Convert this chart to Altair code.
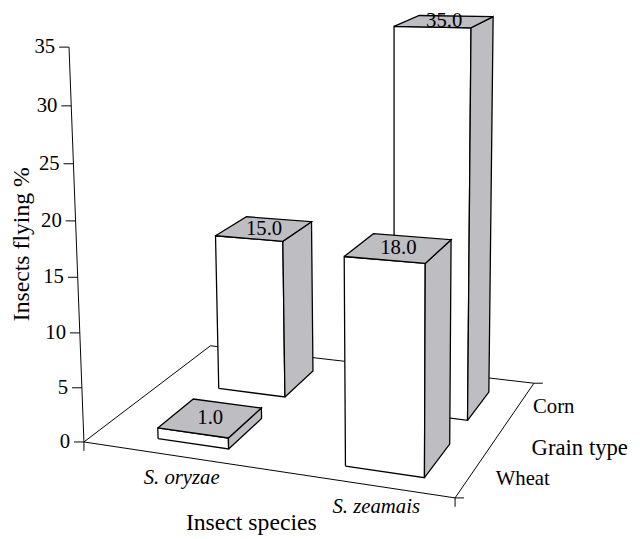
import math
import altair as alt
import pandas as pd

# ---------------- data ----------------
species = ["S. oryzae", "S. zeamais"]
grains = ["Wheat", "Corn"]
wheat_pct = [1.0, 18.0]
corn_pct = [15.0, 35.0]
y_ticks = [0, 5, 10, 15, 20, 25, 30, 35]
y_title = "Insects flying %"
x_title = "Insect species"
z_title = "Grain type"

# ---------------- style / 3-D layout ----------------
Y_MAX = 35.0
FLOOR_W, FLOOR_D, WALL_H = 222.0, 201.0, 238.3      # world size of the box
SPECIES_FRAC = [0.277, 0.798]                        # band centres along the species axis
GRAIN_FRAC = [0.244, 0.729]                          # band centres along the grain axis
BAR_W, BAR_D = 0.203, 0.274                          # bar footprint as fraction of the floor
CAM_POS = (431.3, 361.5, -845.0)
YAW, PITCH, ROLL = -28.8, 11.08, 2.5
FOCAL = 1690.0
PP = (23.0, 155.0)
GRAY = "#bdbdc2"
FONT = "Liberation Serif"
CW, CH = 632, 531


def _cross(a, b):
    return (a[1] * b[2] - a[2] * b[1], a[2] * b[0] - a[0] * b[2], a[0] * b[1] - a[1] * b[0])


_a, _p, _r = map(math.radians, (YAW, PITCH, ROLL))
FWD = (math.cos(_p) * math.sin(_a), -math.sin(_p), math.cos(_p) * math.cos(_a))
_R0 = (math.cos(_a), 0.0, -math.sin(_a))
_D0 = _cross(_R0, FWD)
RIGHT = tuple(math.cos(_r) * u + math.sin(_r) * v for u, v in zip(_R0, _D0))
DOWN = tuple(-math.sin(_r) * u + math.cos(_r) * v for u, v in zip(_R0, _D0))


def proj(X, Y, Z):
    d = (X - CAM_POS[0], Y - CAM_POS[1], Z - CAM_POS[2])
    cx = sum(u * v for u, v in zip(RIGHT, d))
    cy = sum(u * v for u, v in zip(DOWN, d))
    cz = sum(u * v for u, v in zip(FWD, d))
    return PP[0] + FOCAL * cx / cz, PP[1] + FOCAL * cy / cz


def hgt(v):
    return v / Y_MAX * WALL_H


xs = alt.Scale(domain=[8, 8 + CW], nice=False, zero=False)
ys = alt.Scale(domain=[8, 8 + CH], nice=False, zero=False, reverse=True)
X = alt.X("x:Q", scale=xs, axis=None)
Y = alt.Y("y:Q", scale=ys, axis=None)

# ---------------- floor, axis lines and ticks ----------------
rules = []


def seg(p, q):
    rules.append({"x": p[0], "y": p[1], "x2": q[0], "y2": q[1]})


o = proj(0, 0, 0)
fr = proj(FLOOR_W, 0, 0)
bl = proj(0, 0, FLOOR_D)
br = proj(FLOOR_W, 0, FLOOR_D)
seg(o, fr)
seg(o, bl)
seg(bl, br)
seg(fr, br)
seg(o, proj(0, hgt(Y_MAX), 0))
seg(o, (o[0], o[1] + 9))
seg(fr, (fr[0], fr[1] + 9))
seg(fr, (fr[0] + 9, fr[1]))
seg(br, (br[0] + 9, br[1]))
tick_rows = []
for t in y_ticks:
    a = proj(0, hgt(t), 0)
    seg((a[0] - 10, a[1]), a)
    tick_rows.append({"x": a[0] - 14, "y": a[1], "text": str(t)})

rule_layer = alt.Chart(pd.DataFrame(rules)).mark_rule(color="black", strokeWidth=1).encode(
    x=X, y=Y, x2="x2:Q", y2="y2:Q"
)

# ---------------- bars ----------------
bars = []
for gi, vals in ((1, corn_pct), (0, wheat_pct)):           # back row first
    for si, v in enumerate(vals):
        bars.append((si, gi, v))

bar_layers = []
value_rows = []
for si, gi, v in bars:
    xc, zc = SPECIES_FRAC[si] * FLOOR_W, GRAIN_FRAC[gi] * FLOOR_D
    x0, x1 = xc - BAR_W * FLOOR_W / 2, xc + BAR_W * FLOOR_W / 2
    z0, z1 = zc - BAR_D * FLOOR_D / 2, zc + BAR_D * FLOOR_D / 2
    h = hgt(v)
    faces = {
        "a_front": ([(x0, 0, z0), (x1, 0, z0), (x1, h, z0), (x0, h, z0)], "white"),
        "b_side": ([(x1, 0, z0), (x1, 0, z1), (x1, h, z1), (x1, h, z0)], GRAY),
        "c_top": ([(x0, h, z0), (x1, h, z0), (x1, h, z1), (x0, h, z1)], GRAY),
    }
    rows = []
    for name, (pts, col) in faces.items():
        for i, P in enumerate(pts + [pts[0]]):
            sx, sy = proj(*P)
            rows.append({"face": name, "i": i, "x": sx, "y": sy, "fill": col})
    bar_layers.append(
        alt.Chart(pd.DataFrame(rows)).mark_line(stroke="black", strokeWidth=1.3, strokeJoin="miter").encode(
            x=X, y=Y, detail="face:N", order="i:Q", fill=alt.Fill("fill:N", scale=None)
        )
    )
    tx, ty = proj(xc, h, zc)
    value_rows.append({"x": tx, "y": ty, "text": f"{v:.1f}"})

# ---------------- texts ----------------
def text_layer(rows, **kw):
    base = dict(font=FONT, color="black", baseline="middle")
    base.update(kw)
    return alt.Chart(pd.DataFrame(rows)).mark_text(**base).encode(x=X, y=Y, text="text:N")


species_rows = []
for si, name in enumerate(species):
    p = proj(SPECIES_FRAC[si] * FLOOR_W, 0, 0)
    species_rows.append({"x": p[0] + 3, "y": p[1] + 22, "text": name})

GRAIN_NUDGE = [(19, 13), (18, -3)]
grain_rows = []
for gi, name in enumerate(grains):
    p = proj(FLOOR_W, 0, GRAIN_FRAC[gi] * FLOOR_D)
    grain_rows.append({"x": p[0] + GRAIN_NUDGE[gi][0], "y": p[1] + GRAIN_NUDGE[gi][1], "text": name})

pm = proj(FLOOR_W / 2, 0, 0)
xt_rows = [{"x": pm[0] - 8, "y": pm[1] + 55, "text": x_title}]
pz = proj(FLOOR_W, 0, FLOOR_D / 2)
zt_rows = [{"x": pz[0] + 34, "y": pz[1] + 13, "text": z_title}]
py = proj(0, hgt(Y_MAX) / 2, 0)
yt_rows = [{"x": py[0] - 55, "y": py[1] - 5, "text": y_title}]

layers = [rule_layer] + bar_layers + [
    text_layer(tick_rows, fontSize=21, align="right"),
    text_layer(value_rows, fontSize=21, align="center"),
    text_layer(species_rows, fontSize=21, align="center", fontStyle="italic"),
    text_layer(grain_rows, fontSize=21, align="left"),
    text_layer(xt_rows, fontSize=24, align="center"),
    text_layer(zt_rows, fontSize=23, align="left"),
    text_layer(yt_rows, fontSize=24, align="center", angle=270),
]

chart = (
    alt.layer(*layers)
    .properties(width=CW, height=CH, padding=0, autosize=alt.AutoSizeParams(type="none"))
    .configure_view(stroke=None)
)
chart.save("out.html", embed_options={"renderer": "svg", "actions": False})
